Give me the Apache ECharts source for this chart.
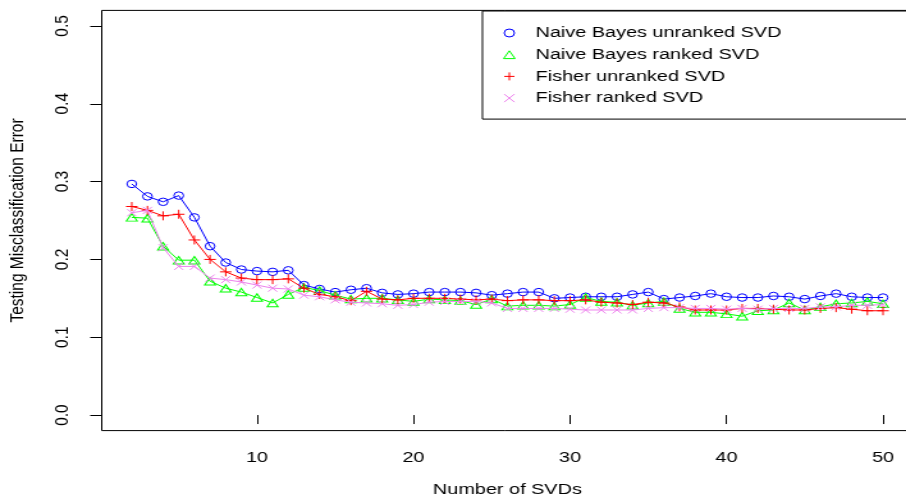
<!DOCTYPE html>
<html>
<head>
<meta charset="utf-8">
<script src="https://cdn.jsdelivr.net/npm/echarts@6/dist/echarts.min.js"></script>
<style>
  html, body { margin: 0; padding: 0; background: #fff; overflow: hidden; }
  /* the plot is laid out at 708px wide and widened to fill 906px */
  #chart { width: 708px; height: 499px; transform: scaleX(1.2797); transform-origin: 0 0; }
</style>
</head>
<body>
<div id="chart"></div>
<script>
// Number of SVDs retained
const svds = [2, 3, 4, 5, 6, 7, 8, 9, 10, 11, 12, 13, 14, 15, 16, 17, 18, 19, 20, 21, 22, 23, 24, 25, 26,
              27, 28, 29, 30, 31, 32, 33, 34, 35, 36, 37, 38, 39, 40, 41, 42, 43, 44, 45, 46, 47, 48, 49, 50];

// Testing misclassification error per classifier
const nbUnranked = [0.297, 0.281, 0.274, 0.282, 0.254, 0.217, 0.196, 0.187, 0.185, 0.184, 0.186, 0.167, 0.162,
                    0.158, 0.161, 0.163, 0.157, 0.155, 0.156, 0.158, 0.158, 0.158, 0.157, 0.154, 0.156, 0.158,
                    0.158, 0.150, 0.151, 0.152, 0.152, 0.152, 0.155, 0.158, 0.149, 0.151, 0.153, 0.156, 0.152,
                    0.151, 0.151, 0.153, 0.152, 0.149, 0.153, 0.156, 0.152, 0.151, 0.151];
const nbRanked = [0.254, 0.253, 0.217, 0.199, 0.199, 0.172, 0.163, 0.158, 0.151, 0.144, 0.155, 0.164, 0.160,
                  0.154, 0.149, 0.150, 0.150, 0.148, 0.146, 0.149, 0.148, 0.147, 0.142, 0.149, 0.140, 0.141,
                  0.141, 0.140, 0.142, 0.151, 0.146, 0.145, 0.141, 0.144, 0.146, 0.137, 0.132, 0.132, 0.130,
                  0.127, 0.134, 0.135, 0.144, 0.135, 0.139, 0.143, 0.144, 0.146, 0.143];
const fisherUnranked = [0.268, 0.263, 0.256, 0.258, 0.225, 0.200, 0.184, 0.176, 0.174, 0.174, 0.175, 0.163, 0.155,
                        0.152, 0.147, 0.159, 0.149, 0.148, 0.150, 0.150, 0.150, 0.149, 0.148, 0.149, 0.147, 0.148,
                        0.148, 0.147, 0.147, 0.148, 0.145, 0.144, 0.142, 0.145, 0.144, 0.139, 0.135, 0.135, 0.135,
                        0.137, 0.137, 0.136, 0.135, 0.135, 0.137, 0.138, 0.136, 0.134, 0.134];
const fisherRanked = [0.260, 0.263, 0.215, 0.191, 0.191, 0.176, 0.174, 0.171, 0.167, 0.163, 0.162, 0.154, 0.152,
                      0.148, 0.145, 0.144, 0.143, 0.141, 0.142, 0.145, 0.146, 0.146, 0.146, 0.144, 0.137, 0.137,
                      0.137, 0.137, 0.136, 0.135, 0.135, 0.135, 0.135, 0.137, 0.138, 0.138, 0.137, 0.137, 0.136,
                      0.137, 0.136, 0.137, 0.137, 0.137, 0.139, 0.139, 0.141, 0.141, 0.142];

// Axis tick labels
const xTicks = [10, 20, 30, 40, 50];
const yTicks = [0, 0.1, 0.2, 0.3, 0.4, 0.5];

const FONT = 'Liberation Sans, Arial, Helvetica, sans-serif';
const FS = 15.5;

const PLUS = 'path://M0,5L10,5M5,0L5,10';
const CROSS = 'path://M0,0L10,10M0,10L10,0';
const TRI = 'path://M5,0L10,8.66L0,8.66Z';

const seriesDefs = [
  { name: 'Naive Bayes unranked SVD', values: nbUnranked, color: '#0000ff', symbol: 'circle', size: 7.5 },
  { name: 'Naive Bayes ranked SVD', values: nbRanked, color: '#00ff00', symbol: 'triangle', size: [8.5, 7.5] },
  { name: 'Fisher unranked SVD', values: fisherUnranked, color: '#ff0000', symbol: PLUS, size: 9 },
  { name: 'Fisher ranked SVD', values: fisherRanked, color: '#ee82ee', symbol: CROSS, size: 7 }
];

const chart = echarts.init(document.getElementById('chart'), null, { renderer: 'canvas' });

chart.setOption({
  animation: false,
  backgroundColor: '#ffffff',
  textStyle: { fontFamily: FONT },
  grid: {
    left: 79.5, top: 10.4, width: 634, height: 420.2,
    outerBoundsMode: 'none',
    containLabel: false,
    show: true, borderColor: '#000', borderWidth: 1, backgroundColor: 'transparent'
  },
  xAxis: {
    type: 'value',
    min: 0.08, max: 51.92,
    name: 'Number of SVDs',
    nameLocation: 'middle',
    nameGap: 51,
    nameTextStyle: { color: '#000', fontSize: FS, fontFamily: FONT },
    axisLine: { show: false },
    axisTick: { show: true, length: 9, lineStyle: { color: '#000' }, customValues: xTicks },
    axisLabel: { color: '#000', fontSize: FS, fontFamily: FONT, margin: 19, customValues: xTicks },
    splitLine: { show: false }
  },
  yAxis: {
    type: 'value',
    min: -0.02, max: 0.52,
    name: 'Testing Misclassification Error',
    nameLocation: 'middle',
    nameGap: 58,
    nameTextStyle: { color: '#000', fontSize: FS, fontFamily: FONT },
    axisLine: { show: false },
    axisTick: { show: true, length: 9, lineStyle: { color: '#000' }, customValues: yTicks },
    axisLabel: {
      color: '#000', fontSize: FS, fontFamily: FONT, margin: 23, rotate: 90,
      customValues: yTicks,
      formatter: v => Number(v).toFixed(1)
    },
    splitLine: { show: false }
  },
  legend: {
    orient: 'vertical',
    left: 377, top: 11,
    padding: [14, 160, 13, 16],
    itemWidth: 9, itemHeight: 8,
    itemGap: 5.7,
    borderColor: '#000', borderWidth: 1,
    backgroundColor: '#fff',
    selectedMode: false,
    textStyle: { color: '#000', fontSize: FS, fontFamily: FONT, lineHeight: 16, padding: [0, 0, 0, 11] },
    data: seriesDefs.map(d => ({
      name: d.name,
      icon: d.symbol === 'triangle' ? TRI : d.symbol,
      itemStyle: { color: 'rgba(0,0,0,0)', borderColor: d.color, borderWidth: 1 }
    }))
  },
  series: seriesDefs.map((d, i) => ({
    name: d.name,
    type: 'line',
    z: 2 + i,
    silent: true,
    data: svds.map((x, k) => [x, d.values[k]]),
    symbol: d.symbol,
    symbolSize: d.size,
    showAllSymbol: true,
    lineStyle: { color: d.color, width: 1 },
    itemStyle: { color: 'rgba(0,0,0,0)', borderColor: d.color, borderWidth: 1 },
    emphasis: { disabled: true }
  }))
});
</script>
</body>
</html>
